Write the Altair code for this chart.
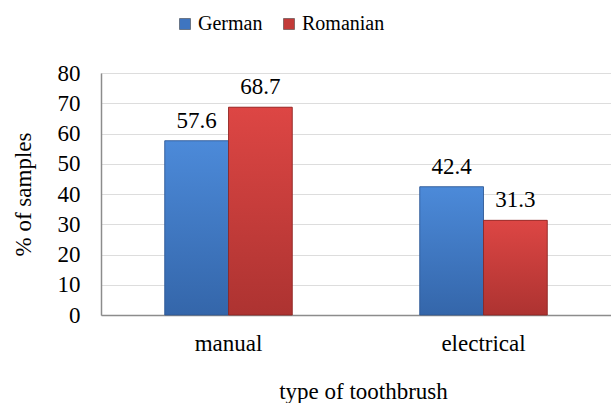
import altair as alt
import pandas as pd

categories = ["manual", "electrical"]
series = ["German", "Romanian"]
german = [57.6, 42.4]
romanian = [68.7, 31.3]
y_ticks = [0, 10, 20, 30, 40, 50, 60, 70, 80]

rows = []
for i, c in enumerate(categories):
    rows.append({"type": c, "nation": "German", "value": german[i]})
    rows.append({"type": c, "nation": "Romanian", "value": romanian[i]})
df = pd.DataFrame(rows)

FONT = "serif"

x_enc = alt.X("type:N", sort=categories,
              scale=alt.Scale(paddingInner=0.5, paddingOuter=0.25),
              axis=alt.Axis(title="type of toothbrush", labelAngle=0,
                            labelFont=FONT, labelFontSize=23, labelColor="black",
                            labelPadding=28, labelBaseline="middle",
                            titleFont=FONT, titleFontSize=23, titleFontWeight="normal",
                            titleColor="black", titleX=262, titleY=76,
                            titleBaseline="middle", titleAlign="center",
                            ticks=False, domainColor="#8c8c8c", domainWidth=1.5))
xo_enc = alt.XOffset("nation:N", sort=series, scale=alt.Scale(paddingInner=0, paddingOuter=0))
y_enc = alt.Y("value:Q", scale=alt.Scale(domain=[0, 80], nice=False),
              axis=alt.Axis(title="% of samples", values=y_ticks,
                            labelFont=FONT, labelFontSize=23, labelColor="black",
                            labelPadding=21, ticks=False,
                            domainColor="#8c8c8c", domainWidth=1.5,
                            titleFont=FONT, titleFontSize=23, titleFontWeight="normal",
                            titleColor="black", titleX=-78, titleY=121,
                            titleAngle=270, titleBaseline="middle", titleAlign="center"))

base = alt.Chart(df)

legend_bars = base.mark_bar().encode(
    x=x_enc, xOffset=xo_enc, y=y_enc,
    color=alt.Color("nation:N", sort=series,
                    scale=alt.Scale(domain=series, range=["#3f75c0", "#c23a38"]),
                    legend=alt.Legend(title=None, orient="none", direction="horizontal",
                                      legendX=74, legendY=-59,
                                      symbolType="square", symbolSize=121,
                                      symbolStrokeColor="#333333", symbolStrokeWidth=0.5,
                                      labelFont=FONT, labelFontSize=20, labelColor="black",
                                      labelOffset=3, columnPadding=16, padding=0))
)

def grad(top, bottom):
    return alt.Gradient(gradient="linear", x1=0, x2=0, y1=0, y2=1,
                        stops=[alt.GradientStop(color=top, offset=0),
                               alt.GradientStop(color=bottom, offset=1)])

blue_bars = base.transform_filter(alt.datum.nation == "German").mark_bar(
    fill=grad("#4c8ad9", "#3466aa"), stroke="#2d5790", strokeWidth=0.8
).encode(x=x_enc, xOffset=xo_enc, y=y_enc)

red_bars = base.transform_filter(alt.datum.nation == "Romanian").mark_bar(
    fill=grad("#dd4644", "#ad3331"), stroke="#8a2422", strokeWidth=0.8
).encode(x=x_enc, xOffset=xo_enc, y=y_enc)

labels = base.mark_text(font=FONT, fontSize=23, color="black",
                        baseline="alphabetic", dy=-13).encode(
    x=x_enc, xOffset=xo_enc, y=y_enc, text=alt.Text("value:Q", format=".1f")
)

chart = alt.layer(legend_bars, blue_bars, red_bars, labels).properties(
    width=510, height=242,
    padding={"left": 12, "top": 14, "right": 0, "bottom": 0},
)

chart.save("out.html", embed_options={"renderer": "svg", "actions": False})
